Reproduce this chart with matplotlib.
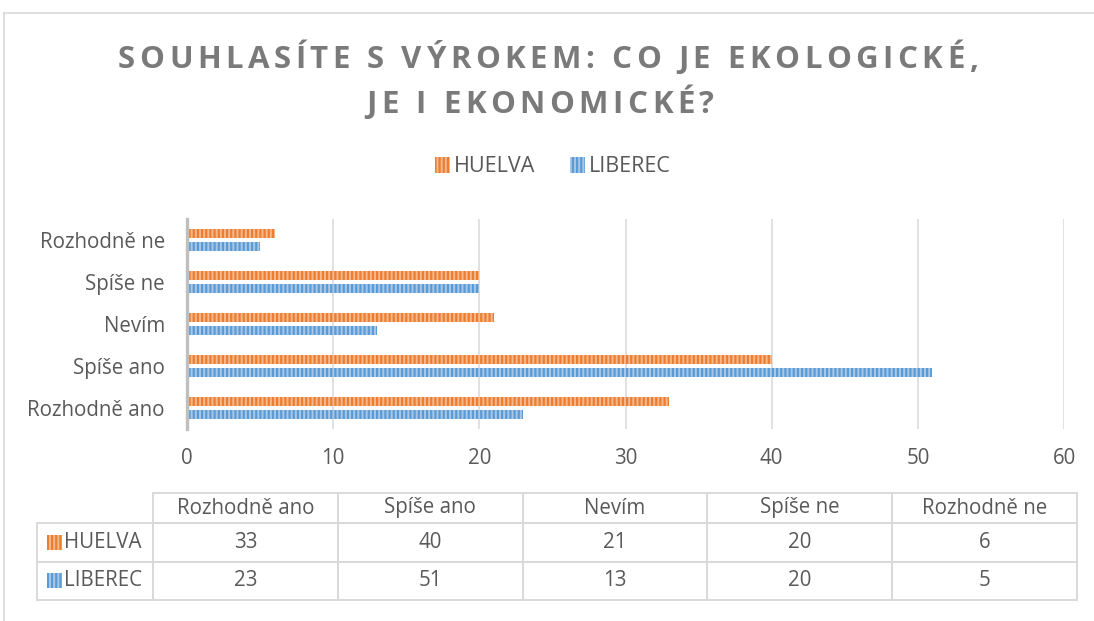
import matplotlib
matplotlib.use("Agg")
import matplotlib.pyplot as plt
from matplotlib.patches import Patch, Rectangle
from matplotlib.lines import Line2D
from matplotlib.font_manager import FontProperties
import numpy as np

# ---- data ----
categories = ["Rozhodně ano", "Spíše ano", "Nevím", "Spíše ne", "Rozhodně ne"]
series_names = ["HUELVA", "LIBEREC"]
huelva = [33, 40, 21, 20, 6]
liberec = [23, 51, 13, 20, 5]
x_ticks = [0, 10, 20, 30, 40, 50, 60]
title_lines = ["SOUHLASÍTE S VÝROKEM: CO JE EKOLOGICKÉ,", "JE I EKONOMICKÉ?"]

# ---- style ----
W, H = 1094, 621
DPI = 100
FONT = "Open Sans"
TXT = "#595959"
GRID = "#D9D9D9"
OR_FILL, OR_HATCH = "#F5B98E", "#ED7D31"
BL_FILL, BL_HATCH = "#A9C8E8", "#5B9BD5"
LBL = 14.8

plt.rcParams["font.family"] = [FONT, "DejaVu Sans"]
plt.rcParams["hatch.linewidth"] = 1.6

fig = plt.figure(figsize=(W / DPI, H / DPI), dpi=DPI)
fig.patch.set_facecolor("white")

def fx(px):
    return px / W

def fy(py):
    return 1 - py / H

# chart border (top & left)
fig.add_artist(Line2D([fx(4), fx(1094)], [fy(13), fy(13)], color=GRID, lw=1.2))
fig.add_artist(Line2D([fx(4), fx(4)], [fy(13), fy(621)], color=GRID, lw=1.2))

# ---- plot axes ----
ax_l, ax_r, ax_t, ax_b = 187, 1064, 219, 429
ax = fig.add_axes([fx(ax_l), fy(ax_b), fx(ax_r - ax_l), (ax_b - ax_t) / H])
y = np.arange(len(categories))
bh = 0.226
off = 0.155
ax.barh(y + off, huelva, height=bh, color=OR_FILL, edgecolor=OR_HATCH,
        hatch="||||", linewidth=0, zorder=3)
ax.barh(y - off, liberec, height=bh, color=BL_FILL, edgecolor=BL_HATCH,
        hatch="||||", linewidth=0, zorder=3)
ax.set_xlim(0, 60)
ax.set_ylim(-0.5, len(categories) - 0.5)
ax.set_xticks(x_ticks)
ax.set_xticklabels([str(t) for t in x_ticks])
ax.set_yticks(y)
ax.set_yticklabels(categories)
ax.tick_params(axis="both", length=0, labelsize=LBL, labelcolor=TXT)
ax.tick_params(axis="x", pad=14)
ax.tick_params(axis="y", pad=16)
ax.xaxis.grid(True, color=GRID, lw=1.1, zorder=0)
ax.set_axisbelow(True)
for s in ["top", "right", "bottom"]:
    ax.spines[s].set_visible(False)
ax.spines["left"].set_color("#BFBFBF")
ax.spines["left"].set_linewidth(2.4)
ax.spines["left"].set_zorder(4)

# ---- legend ----
handles = [Patch(facecolor=OR_FILL, edgecolor=OR_HATCH, hatch="||||", lw=0),
           Patch(facecolor=BL_FILL, edgecolor=BL_HATCH, hatch="||||", lw=0)]
fig.legend(handles, series_names, loc="center", bbox_to_anchor=(fx(553), fy(167)),
           ncol=2, frameon=False, fontsize=15.5, labelcolor=TXT,
           handlelength=0.7, handleheight=0.7, handletextpad=0.2, columnspacing=1.6)

# ---- title with letter spacing ----
renderer = fig.canvas.get_renderer()
tprop = FontProperties(family=FONT, weight="bold", size=22.5)

def tw(s):
    w, h, d = renderer.get_text_width_height_descent(s, tprop, ismath=False)
    return w

base = tw("HH")
def adv(c):
    return tw("H" + c + "H") - base

def line_width(s, sp):
    a = [adv(c) for c in s]
    return sum(a) + sp * (len(s) - 1), a

nat, _ = line_width(title_lines[0], 0)
spacing = (860 - nat) / (len(title_lines[0]) - 1)
for line, cx, base_y in [(title_lines[0], 548, 68), (title_lines[1], 540, 113)]:
    total, advs = line_width(line, spacing)
    x0 = cx - total / 2
    for c, a in zip(line, advs):
        if c != " ":
            fig.text(fx(x0), fy(base_y), c, fontproperties=tprop, color="#7A7A7A",
                     ha="left", va="baseline")
        x0 += a + spacing

# ---- data table ----
t_l, t_r, t_t, t_b = 37, 1077, 493, 600
tax = fig.add_axes([fx(t_l), fy(t_b), fx(t_r - t_l), (t_b - t_t) / H])
tax.axis("off")
cell_rows = [[""] + categories,
             [series_names[0]] + [str(v) for v in huelva],
             [series_names[1]] + [str(v) for v in liberec]]
label_w = 116
data_w = (t_r - t_l - label_w) / len(categories)
col_w = [label_w / (t_r - t_l)] + [data_w / (t_r - t_l)] * len(categories)
tbl = tax.table(cellText=cell_rows, colWidths=col_w, cellLoc="center", bbox=[0, 0, 1, 1])
tbl.auto_set_font_size(False)
tbl.set_fontsize(LBL)
row_h = [30, 38.5, 38.5]
for (r, c), cell in tbl.get_celld().items():
    cell.set_edgecolor(GRID)
    cell.set_linewidth(1.4)
    cell.set_height(row_h[r] / sum(row_h))
    cell.get_text().set_color(TXT)
    if r == 0 and c == 0:
        cell.visible_edges = ""
    if r > 0 and c == 0:
        cell._loc = "left"
        cell.PAD = 0.235
        cell.get_text().set_ha("left")

# legend keys inside table
key_w = 15 / (t_r - t_l)
key_h = 15 / (t_b - t_t)
for i, (fc, hc) in enumerate([(OR_FILL, OR_HATCH), (BL_FILL, BL_HATCH)]):
    yc = (t_b - (t_t + row_h[0] + row_h[1] * i + row_h[1] / 2)) / (t_b - t_t)
    tax.add_patch(Rectangle(((47 - t_l) / (t_r - t_l), yc - key_h / 2), key_w, key_h,
                            facecolor=fc, edgecolor=hc, hatch="||||", lw=0,
                            transform=tax.transAxes, zorder=5))

fig.savefig("out.png", dpi=DPI)
